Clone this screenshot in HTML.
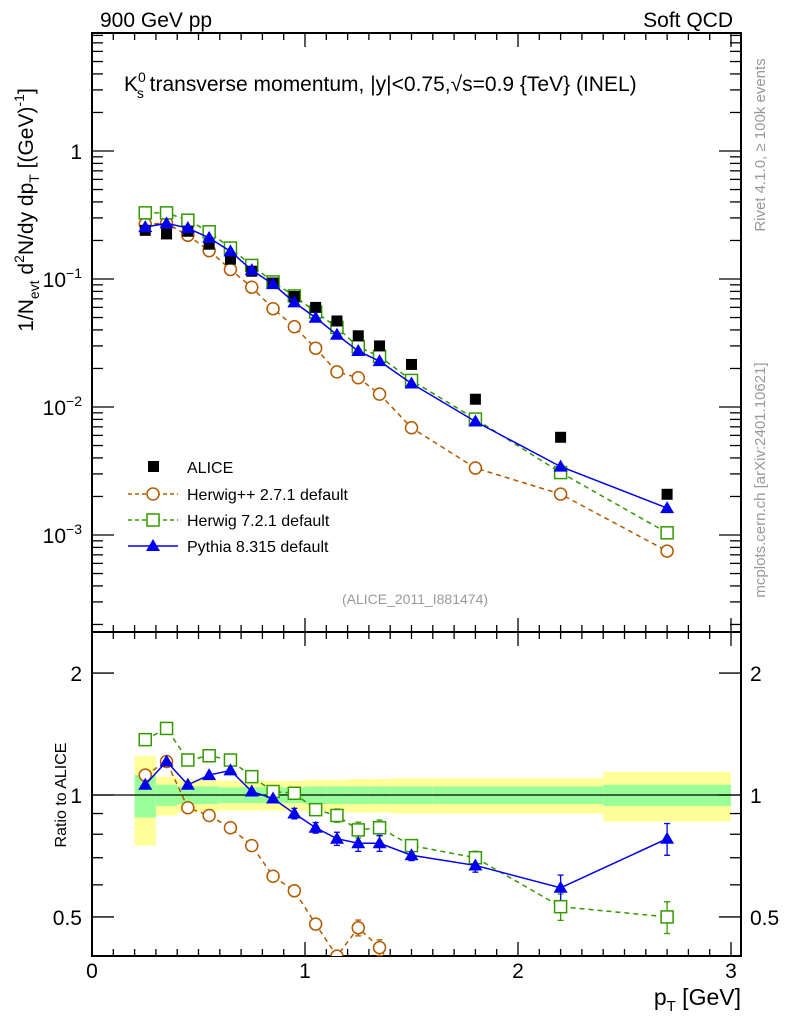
<!DOCTYPE html>
<html><head><meta charset="utf-8"><style>
body{margin:0;background:#fff;}
svg{display:block;font-family:"Liberation Sans",sans-serif;}
</style></head><body>
<svg id="c" width="786" height="1024" xmlns="http://www.w3.org/2000/svg"></svg>
<script>
const xs=[0.25,0.35,0.45,0.55,0.65,0.75,0.85,0.95,1.05,1.15,1.25,1.35,1.5,1.8,2.2,2.7];
const alice=[0.24,0.225,0.236,0.187,0.143,0.115,0.093,0.073,0.060,0.047,0.036,0.030,0.0215,0.0115,0.0058,0.00208];
const rHpp=[1.12,1.21,0.93,0.89,0.83,0.75,0.63,0.58,0.48,0.40,0.47,0.42,0.32,0.29,0.36,0.36];
const rH7=[1.37,1.46,1.22,1.25,1.22,1.11,1.02,1.01,0.92,0.89,0.82,0.83,0.75,0.70,0.53,0.50];
const rPy=[1.06,1.21,1.06,1.12,1.15,1.02,0.98,0.90,0.83,0.78,0.76,0.76,0.71,0.67,0.59,0.78];
const errR=[0.01,0.01,0.01,0.01,0.01,0.01,0.015,0.02,0.02,0.025,0.03,0.03,0.02,0.025,0.05,0.06];
const binEdges=[0.2,0.3,0.4,0.5,0.6,0.7,0.8,0.9,1.0,1.1,1.2,1.3,1.4,1.6,2.0,2.4,3.0];
const bandGreen=[0.12,0.06,0.05,0.05,0.045,0.045,0.045,0.045,0.05,0.05,0.05,0.05,0.05,0.05,0.05,0.06];
const bandYellow=[0.25,0.11,0.095,0.09,0.085,0.085,0.085,0.085,0.09,0.09,0.095,0.095,0.1,0.1,0.1,0.14];
const xTicks=[0,1,2,3];
const yTicks=[[1,"1"],[0.1,"10"],[0.01,"10"],[0.001,"10"]];

const S=document.getElementById('c');const NS="http://www.w3.org/2000/svg";
function el(t,a,p){const e=document.createElementNS(NS,t);for(const k in a)e.setAttribute(k,a[k]);(p||S).appendChild(e);return e;}
const L=92,R=741,T=33,MB=632,B=956;
const X=v=>92+213*v;
const Y=v=>151-128*Math.log10(v);
const RY=v=>795-405*Math.log10(v);
let f=el('rect',{x:L,y:T,width:R-L,height:MB-T,fill:'none',stroke:'#000','stroke-width':2});

const gB=el('g',{});
for(let i=0;i<bandYellow.length;i++){
 const x1=X(binEdges[i]),x2=X(binEdges[i+1]);
 el('rect',{x:x1,y:RY(1+bandYellow[i]),width:x2-x1,height:RY(1-bandYellow[i])-RY(1+bandYellow[i]),fill:'#ffff99'},gB);
 el('rect',{x:x1,y:RY(1+bandGreen[i]),width:x2-x1,height:RY(1-bandGreen[i])-RY(1+bandGreen[i]),fill:'#99ff99'},gB);
}
el('line',{x1:L,x2:R,y1:RY(1),y2:RY(1),stroke:'#000','stroke-width':1.3});
let f2=el('rect',{x:L,y:MB,width:R-L,height:B-MB,fill:'none',stroke:'#000','stroke-width':2});

for(let v=0;v<=3.001;v+=0.1){const x=X(v);const maj=Math.abs(v-Math.round(v))<1e-6;const h=maj?14:7;
 for(const [y0,dir] of [[T,1],[MB,-1],[MB,1],[B,-1]]) el('line',{x1:x,x2:x,y1:y0,y2:y0+dir*h,stroke:'#000','stroke-width':1.3});}
xTicks.forEach(v=>{const t=el('text',{x:X(v),y:978,'font-size':21,'text-anchor':'middle'});t.textContent=v;});
for(let d=-4;d<=0;d++)for(let m=1;m<10;m++){const v=m*Math.pow(10,d);const y=Y(v);if(y<T||y>MB)continue;const h=m==1?22:11;
 el('line',{x1:L,x2:L+h,y1:y,y2:y,stroke:'#000','stroke-width':1.3});el('line',{x1:R,x2:R-h,y1:y,y2:y,stroke:'#000','stroke-width':1.3});}
yTicks.forEach(([v,s],i)=>{const t=el('text',{x:82,y:Y(v)+8,'font-size':21,'text-anchor':'end'});t.textContent=s;
 if(i>0){const sp=el('tspan',{dy:-9,'font-size':14},t);sp.textContent="\u2212"+i;}
 });
[0.4,0.5,0.6,0.7,0.8,0.9,1,2].forEach(v=>{const y=RY(v);if(y>B||y<MB)return;const maj=(v==0.5||v==1||v==2);const h=maj?22:11;
 el('line',{x1:L,x2:L+h,y1:y,y2:y,stroke:'#000','stroke-width':1.3});el('line',{x1:R,x2:R-h,y1:y,y2:y,stroke:'#000','stroke-width':1.3});});
[[0.5,"0.5"],[1,"1"],[2,"2"]].forEach(([v,s])=>{const a=el('text',{x:82,y:RY(v)+8,'font-size':21,'text-anchor':'end'});a.textContent=s;
 
 const b=el('text',{x:750,y:RY(v)+8,'font-size':21});b.textContent=s;});
function series(vals,color,dash,marker,name,fy,clip){
 const g=el('g',{});
 const pts=[];xs.forEach((x,i)=>{const y=fy(vals[i],i);pts.push([X(x),y]);});
 const vis=pts.filter(p=>p[1]>=clip[0]-40&&p[1]<=clip[1]+40);
 const cp='cp'+name;const c=el('clipPath',{id:cp},g);el('rect',{x:L,y:clip[0],width:R-L,height:clip[1]-clip[0]},c);
 const gg=el('g',{'clip-path':`url(#${cp})`},g);
 if(color)el('polyline',{points:vis.map(p=>p.join(',')).join(' '),fill:'none',stroke:color,'stroke-width':1.5,'stroke-dasharray':dash||''},gg);
 pts.forEach(([x,y],i)=>{if(y<clip[0]||y>clip[1]+2)return;marker(x,y,gg);});
}
const circ=c=>(x,y,g)=>el('circle',{cx:x,cy:y,r:6,fill:'#fff',stroke:c,'stroke-width':1.5},g);
const sq=c=>(x,y,g)=>el('rect',{x:x-6,y:y-6,width:12,height:12,fill:'#fff',stroke:c,'stroke-width':1.5},g);
const tri=c=>(x,y,g)=>el('polygon',{points:`${x},${y-7} ${x-7},${y+5} ${x+7},${y+5}`,fill:c},g);
const blk=(x,y,g)=>el('rect',{x:x-5.5,y:y-5.5,width:11,height:11,fill:'#000'},g);
const cH='#b35900',c7='#339900',cP='#0000ee';
series(rHpp,cH,'5,4',circ(cH),'herwigpp-series',(r,i)=>Y(r*alice[i]),[T,MB]);
series(rH7,c7,'5,4',sq(c7),'herwig7-series',(r,i)=>Y(r*alice[i]),[T,MB]);
series(alice,null,'',blk,'alice-data',(v)=>Y(v),[T,MB]);
series(rPy,cP,'',tri(cP),'pythia-series',(r,i)=>Y(r*alice[i]),[T,MB]);
function errs(vals,color,name){const g=el('g',{});
 xs.forEach((x,i)=>{if(i<6)return;const y1=RY(vals[i]*(1+errR[i]*1.5)),y2=RY(vals[i]*(1-errR[i]*1.5));if(RY(vals[i])>B)return;const px=X(x);
 el('line',{x1:px,x2:px,y1:y1,y2:Math.min(y2,B),stroke:color,'stroke-width':1.3},g);
 el('line',{x1:px-3,x2:px+3,y1:y1,y2:y1,stroke:color,'stroke-width':1.3},g);
 if(y2<B)el('line',{x1:px-3,x2:px+3,y1:y2,y2:y2,stroke:color,'stroke-width':1.3},g);});}
errs(rHpp,cH,'herwigpp-ratio-errors');errs(rH7,c7,'herwig7-ratio-errors');errs(rPy,cP,'pythia-ratio-errors');
series(rHpp,cH,'5,4',circ(cH),'herwigpp-ratio',r=>RY(r),[MB,B]);
series(rH7,c7,'5,4',sq(c7),'herwig7-ratio',r=>RY(r),[MB,B]);
series(rPy,cP,'',tri(cP),'pythia-ratio',r=>RY(r),[MB,B]);
</script>
<svg width="786" height="1024" style="position:absolute;left:0;top:0;font-family:'Liberation Sans',sans-serif" xmlns="http://www.w3.org/2000/svg">
<text x="100" y="27" font-size="21">900 GeV pp</text>
<text x="733" y="27" font-size="21" text-anchor="end">Soft QCD</text>
<text x="124" y="91" font-size="21">K<tspan font-size="14" dy="-9">0</tspan><tspan font-size="14" dy="16" dx="-9">s</tspan><tspan dy="-7"> transverse momentum, |y|&lt;0.75,√s=0.9 {TeV} (INEL)</tspan></text>
<text transform="translate(33,210) rotate(-90)" font-size="21" text-anchor="middle">1/N<tspan font-size="14" dy="6">evt</tspan><tspan dy="-6">  d</tspan><tspan font-size="14" dy="-9">2</tspan><tspan dy="9">N/dy dp</tspan><tspan font-size="14" dy="6">T</tspan><tspan dy="-6"> [(GeV)</tspan><tspan font-size="14" dy="-9">-1</tspan><tspan dy="9">]</tspan></text>
<text transform="translate(66,795) rotate(-90)" font-size="16" text-anchor="middle">Ratio to ALICE</text>
<text x="741" y="1005" font-size="23" text-anchor="end">p<tspan font-size="15" dy="6">T</tspan><tspan dy="-6"> [GeV]</tspan></text>
<text transform="translate(765,145) rotate(-90)" font-size="15" fill="#999" text-anchor="middle">Rivet 4.1.0, ≥ 100k events</text>
<text transform="translate(765,480) rotate(-90)" font-size="15" fill="#999" text-anchor="middle">mcplots.cern.ch [arXiv:2401.10621]</text>
<text x="415" y="604" font-size="14" fill="#999" text-anchor="middle">(ALICE_2011_I881474)</text>
<g font-size="16">
<rect x="148" y="461" width="11" height="11" fill="#000"/>
<text x="187" y="473">ALICE</text>
<line x1="128" x2="178" y1="494" y2="494" stroke="#b35900" stroke-width="1.5" stroke-dasharray="4,3"/>
<circle cx="153" cy="494" r="6" fill="#fff" stroke="#b35900" stroke-width="1.5"/>
<text x="187" y="500">Herwig++ 2.7.1 default</text>
<line x1="128" x2="178" y1="520" y2="520" stroke="#339900" stroke-width="1.5" stroke-dasharray="4,3"/>
<rect x="147" y="514" width="12" height="12" fill="#fff" stroke="#339900" stroke-width="1.5"/>
<text x="187" y="526">Herwig 7.2.1 default</text>
<line x1="128" x2="178" y1="546" y2="546" stroke="#0000ee" stroke-width="1.5"/>
<polygon points="153,539 146,551 160,551" fill="#0000ee"/>
<text x="187" y="552">Pythia 8.315 default</text>
</g>
</svg>
</body></html>
